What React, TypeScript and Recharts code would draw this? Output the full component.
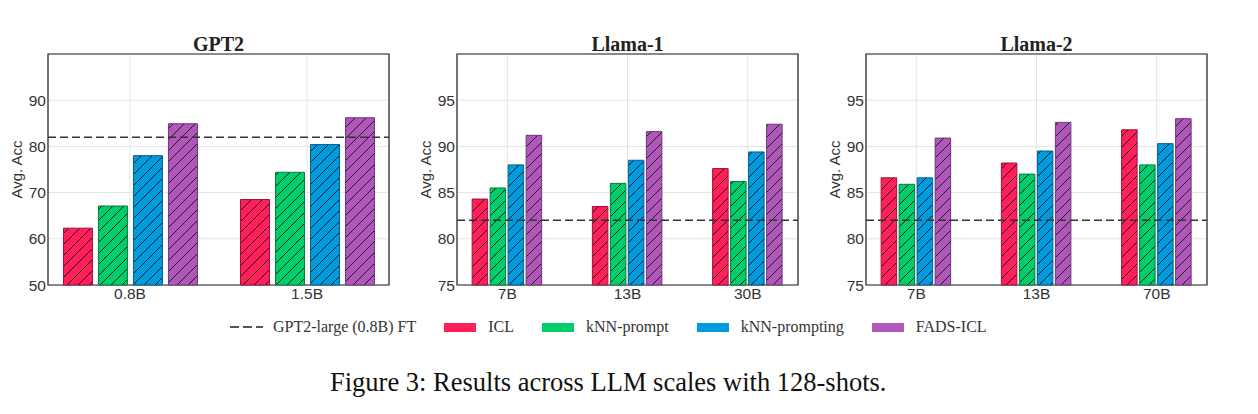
import React from 'react';
import {
  BarChart,
  Bar,
  XAxis,
  YAxis,
  CartesianGrid,
  ReferenceLine,
  ReferenceArea
} from 'recharts';

// series (same order in every panel)
const seriesNames = ['ICL', 'kNN-prompt', 'kNN-prompting', 'FADS-ICL'];
const seriesColors = ['#FF1F5B', '#00CD6C', '#009ADE', '#AF58BA'];
const seriesEdges = ['#9e1238', '#0b7a43', '#0a5f8a', '#6e3577'];

// GPT2 panel
const gpt2Sizes = ['0.8B', '1.5B'];
const gpt2Icl = [62.3, 68.5];
const gpt2KnnPrompt = [67.1, 74.4];
const gpt2KnnPrompting = [78.0, 80.4];
const gpt2Fads = [84.9, 86.2];
const gpt2Ticks = [50, 60, 70, 80, 90];

// Llama-1 panel
const llama1Sizes = ['7B', '13B', '30B'];
const llama1Icl = [84.3, 83.5, 87.6];
const llama1KnnPrompt = [85.5, 86.0, 86.2];
const llama1KnnPrompting = [88.0, 88.5, 89.4];
const llama1Fads = [91.2, 91.6, 92.4];

// Llama-2 panel
const llama2Sizes = ['7B', '13B', '70B'];
const llama2Icl = [86.6, 88.2, 91.8];
const llama2KnnPrompt = [85.9, 87.0, 88.0];
const llama2KnnPrompting = [86.6, 89.5, 90.3];
const llama2Fads = [90.9, 92.6, 93.0];
const llamaTicks = [75, 80, 85, 90, 95];

// fine-tuned GPT2-large baseline (dashed line)
const ftBaseline = 82.0;
const ftLabel = 'GPT2-large (0.8B) FT';

const sans = '"Liberation Sans", Arial, sans-serif';
const serif = '"Liberation Serif", "Times New Roman", serif';

function buildRows(sizes: string[], cols: number[][]) {
  return sizes.map((label, i) => {
    const row: Record<string, number | string> = { x: i, label };
    seriesNames.forEach((name, s) => {
      row[name] = cols[s][i];
    });
    return row;
  });
}

interface PanelProps {
  id: string;
  title: string;
  left: number;
  sizes: string[];
  cols: number[][];
  yMin: number;
  yTicks: number[];
  xPad: number;
  barSize: number;
  barGap: number;
}

function Panel({ id, title, left, sizes, cols, yMin, yTicks, xPad, barSize, barGap }: PanelProps) {
  const rows = buildRows(sizes, cols);
  const xDomain: [number, number] = [-xPad, sizes.length - 1 + xPad];
  const tickStyle = { fontFamily: sans, fontSize: 15.5, fill: '#333' };
  return (
    <div style={{ position: 'absolute', left, top: 0 }}>
      <div
        style={{
          position: 'absolute',
          left: 48,
          width: 341,
          top: 34,
          textAlign: 'center',
          fontFamily: serif,
          fontWeight: 'bold',
          fontSize: 20,
          lineHeight: '20px',
          color: '#222'
        }}
      >
        {title}
      </div>
      <BarChart
        width={394}
        height={305}
        data={rows}
        margin={{ top: 54, right: 5, bottom: 0, left: 0 }}
        barSize={barSize}
        barGap={barGap}
      >
        <defs>
          {seriesColors.map((c, i) => (
            <pattern
              key={i}
              id={`${id}-hatch-${i}`}
              patternUnits="userSpaceOnUse"
              width={11}
              height={11}
            >
              <rect width={11} height={11} fill={c} />
              <path d="M-1,1 l2,-2 M0,11 l11,-11 M10,12 l2,-2" stroke="#111" strokeWidth={0.9} />
            </pattern>
          ))}
        </defs>
        <CartesianGrid stroke="#e4e4e4" strokeWidth={1} />
        <XAxis
          type="number"
          dataKey="x"
          domain={xDomain}
          ticks={sizes.map((_, i) => i)}
          interval={0}
          tickFormatter={(v: number) => sizes[v]}
          axisLine={false}
          tickLine={false}
          tickSize={2}
          tickMargin={1}
          height={20}
          tick={tickStyle}
        />
        <YAxis
          type="number"
          domain={[yMin, 100]}
          ticks={yTicks}
          interval={0}
          axisLine={false}
          tickLine={false}
          tickSize={1}
          tickMargin={1}
          width={48}
          tick={tickStyle}
          label={{
            value: 'Avg. Acc',
            angle: -90,
            position: 'insideLeft',
            offset: 17,
            style: { textAnchor: 'middle', fontFamily: sans, fontSize: 15, fill: '#333' }
          }}
        />
        {seriesNames.map((name, i) => (
          <Bar
            key={name}
            dataKey={name}
            fill={`url(#${id}-hatch-${i})`}
            stroke={seriesEdges[i]}
            strokeWidth={1}
            isAnimationActive={false}
          />
        ))}
        <ReferenceLine
          y={ftBaseline}
          stroke="#333"
          strokeWidth={1.5}
          strokeDasharray="8 4"
        />
        <ReferenceArea
          x1={xDomain[0]}
          x2={xDomain[1]}
          y1={yMin}
          y2={100}
          fill="none"
          fillOpacity={0}
          stroke="#222"
          strokeWidth={1.2}
          ifOverflow="visible"
        />
      </BarChart>
    </div>
  );
}

function Legend() {
  return (
    <div
      style={{
        position: 'absolute',
        left: 230,
        top: 319,
        height: 16,
        display: 'flex',
        alignItems: 'center',
        gap: 28,
        fontFamily: serif,
        fontSize: 16,
        lineHeight: '16px',
        color: '#333',
        whiteSpace: 'nowrap'
      }}
    >
      <div style={{ display: 'flex', alignItems: 'center', gap: 10 }}>
        <svg width={33} height={4}>
          <line x1={0} y1={2} x2={33} y2={2} stroke="#555" strokeWidth={2} strokeDasharray="9 4" />
        </svg>
        <span>{ftLabel}</span>
      </div>
      {seriesNames.map((name, i) => (
        <div key={name} style={{ display: 'flex', alignItems: 'center', gap: 12 }}>
          <div style={{ width: 32, height: 9, background: seriesColors[i] }} />
          <span>{name}</span>
        </div>
      ))}
    </div>
  );
}

export default function App() {
  return (
    <div
      style={{
        position: 'absolute',
        left: 0,
        top: 0,
        width: 1258,
        height: 414,
        background: '#fff',
        overflow: 'hidden'
      }}
    >
      <Panel
        id="gpt2"
        title="GPT2"
        left={0}
        sizes={gpt2Sizes}
        cols={[gpt2Icl, gpt2KnnPrompt, gpt2KnnPrompting, gpt2Fads]}
        yMin={50}
        yTicks={gpt2Ticks}
        xPad={0.463}
        barSize={29}
        barGap={6}
      />
      <Panel
        id="llama1"
        title="Llama-1"
        left={409}
        sizes={llama1Sizes}
        cols={[llama1Icl, llama1KnnPrompt, llama1KnnPrompting, llama1Fads]}
        yMin={75}
        yTicks={llamaTicks}
        xPad={0.418}
        barSize={15.5}
        barGap={2.5}
      />
      <Panel
        id="llama2"
        title="Llama-2"
        left={818}
        sizes={llama2Sizes}
        cols={[llama2Icl, llama2KnnPrompt, llama2KnnPrompting, llama2Fads]}
        yMin={75}
        yTicks={llamaTicks}
        xPad={0.418}
        barSize={15.5}
        barGap={2.5}
      />
      <Legend />
      <div
        style={{
          position: 'absolute',
          left: 330,
          top: 369,
          fontFamily: serif,
          fontSize: 26.5,
          lineHeight: '26px',
          color: '#111',
          whiteSpace: 'nowrap'
        }}
      >
        Figure 3: Results across LLM scales with 128-shots.
      </div>
    </div>
  );
}
